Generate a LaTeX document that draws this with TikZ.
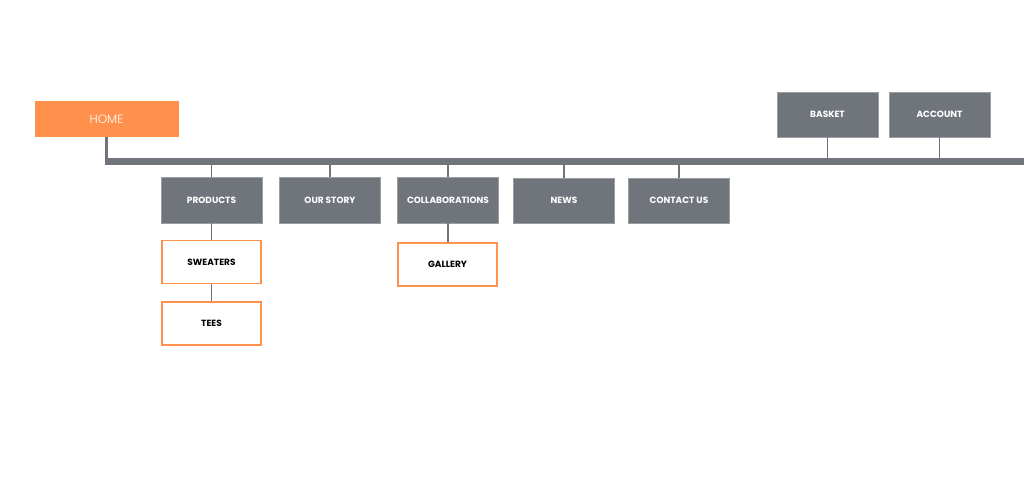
\documentclass[tikz,border=0pt]{standalone}
\usepackage{fontspec}
\setmainfont{Poppins}
\newfontfamily\poplight{Poppins Light}
\definecolor{boxgray}{HTML}{6F757B}
\definecolor{linegray}{HTML}{6F757B}
\definecolor{orng}{HTML}{FF914D}
\begin{document}
\begin{tikzpicture}[x=1pt,y=-1pt,
  graybox/.style={draw=boxgray!70!white, line width=0.6pt, fill=boxgray, text=white,
    font=\fontsize{9}{10}\selectfont\bfseries, minimum width=101pt, minimum height=46pt, inner sep=0pt},
  subbox/.style={draw=orng, line width=1.5pt, fill=white, text=black,
    font=\fontsize{9}{10}\selectfont\bfseries, minimum width=99pt, minimum height=43pt, inner sep=0pt},
  homebox/.style={fill=orng, text=white, font=\poplight\fontsize{12}{14}\selectfont,
    minimum width=144pt, minimum height=36pt, inner sep=0pt},
  link/.style={draw=linegray, line width=1.8pt},
]
\useasboundingbox (0,0) rectangle (1024,485);
\fill[white] (0,0) rectangle (1024,485);

\node[homebox] (home) at (106.5,119) {HOME};

\node[graybox] (products) at (211.5,200) {PRODUCTS};
\node[graybox] (ourstory) at (330,200) {OUR STORY};
\node[graybox] (collab) at (448,200) {COLLABORATIONS};
\node[graybox, minimum height=45pt] (news) at (564,200.5) {NEWS};
\node[graybox, minimum height=45pt] (contact) at (679,200.5) {CONTACT US};
\node[graybox, minimum height=45pt] (basket) at (827.5,114.5) {BASKET};
\node[graybox, minimum height=45pt] (account) at (939.5,114.5) {ACCOUNT};

\node[subbox] (sweaters) at (211.5,262) {SWEATERS};
\node[subbox] (tees) at (211.5,323.5) {TEES};
\node[subbox] (gallery) at (447.5,264.5) {GALLERY};

\coordinate (bus) at (107,161.5);
\coordinate (busend) at (1024,161.5);

% main bus
\draw[draw=linegray, line width=3.5pt] (home.south) -- (home.south |- bus);
\draw[draw=linegray, line width=6.5pt] ([xshift=-1.75pt]home.south |- bus) -- (busend);

% branches
\foreach \n in {products,ourstory,collab,news,contact}{
  \draw[link] (\n.north) -- (\n.north |- bus);
}
\foreach \n in {basket,account}{
  \draw[link] (\n.south) -- (\n.south |- bus);
}
\draw[link] (products.south) -- (products.south |- sweaters.north);
\draw[link] (sweaters.south) -- (sweaters.south |- tees.north);
\draw[link] (collab.south) -- (collab.south |- gallery.north);
\end{tikzpicture}
\end{document}
